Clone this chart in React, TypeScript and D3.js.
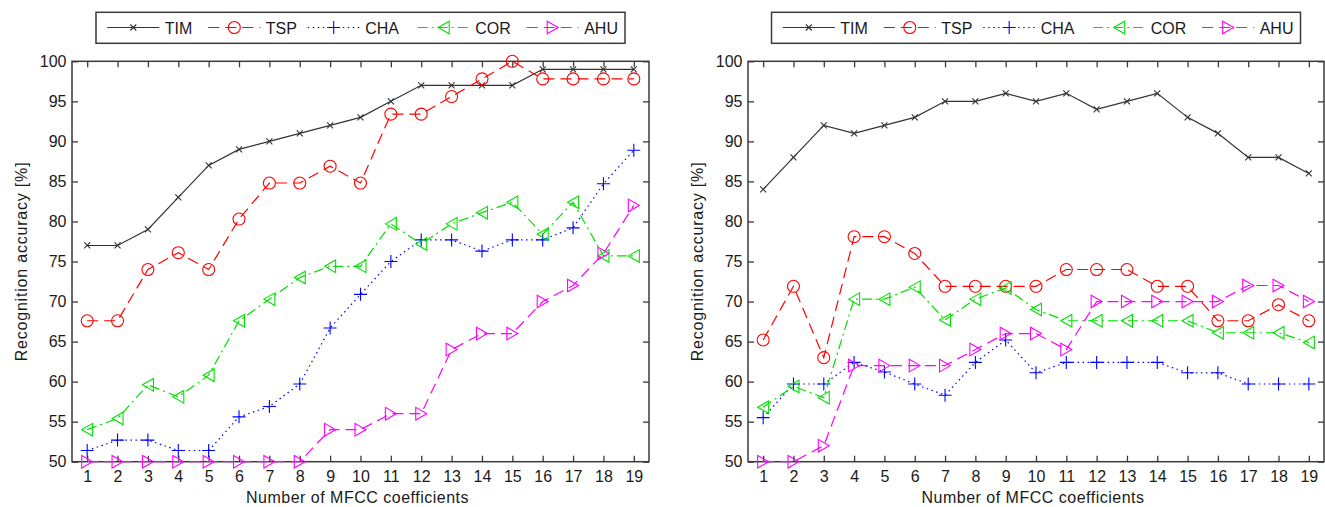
import React, { useRef, useEffect } from "react";
import * as d3 from "d3";

// x categories and axis ticks
const coefficients = [1, 2, 3, 4, 5, 6, 7, 8, 9, 10, 11, 12, 13, 14, 15, 16, 17, 18, 19];
const accuracyTicks = [50, 55, 60, 65, 70, 75, 80, 85, 90, 95, 100];
const seriesNames = ["TIM", "TSP", "CHA", "COR", "AHU"];

// left panel
const leftTIM = [77, 77, 79, 83, 87, 89, 90, 91, 92, 93, 95, 97, 97, 97, 97, 99, 99, 99, 99];
const leftTSP = [67.6, 67.6, 74, 76.1, 74, 80.3, 84.8, 84.8, 86.9, 84.8, 93.4, 93.4, 95.6, 97.8, 100, 97.8, 97.8, 97.8, 97.8];
const leftCHA = [51.4, 52.7, 52.7, 51.4, 51.4, 55.6, 56.9, 59.7, 66.7, 70.9, 75, 77.7, 77.7, 76.3, 77.7, 77.7, 79.2, 84.7, 88.9];
const leftCOR = [54, 55.4, 59.6, 58.1, 60.8, 67.6, 70.3, 73, 74.4, 74.4, 79.7, 77.2, 79.7, 81.1, 82.4, 78.4, 82.4, 75.7, 75.7];
const leftAHU = [50, 50, 50, 50, 50, 50, 50, 50, 54, 54, 56, 56, 64, 66, 66, 70, 72, 76, 82];

// right panel
const rightTIM = [84, 88, 92, 91, 92, 93, 95, 95, 96, 95, 96, 94, 95, 96, 93, 91, 88, 88, 86];
const rightTSP = [65.2, 71.9, 63, 78.1, 78.1, 76, 71.9, 71.9, 71.9, 71.9, 74, 74, 74, 71.9, 71.9, 67.6, 67.6, 69.6, 67.6];
const rightCHA = [55.5, 59.7, 59.7, 62.4, 61.2, 59.7, 58.3, 62.4, 65.2, 61.1, 62.4, 62.4, 62.4, 62.4, 61.1, 61.1, 59.7, 59.7, 59.7];
const rightCOR = [56.8, 59.4, 58, 70.3, 70.3, 71.8, 67.7, 70.3, 71.7, 69, 67.6, 67.6, 67.6, 67.6, 67.6, 66.1, 66.1, 66.1, 64.9];
const rightAHU = [50, 50, 52, 62, 62, 62, 62, 64, 66, 66, 64, 70, 70, 70, 70, 70, 72, 72, 70];

const FONT = "'Liberation Sans', Arial, Helvetica, sans-serif";
const AXIS = "#3a3a3a";
const TEXT = "#1a1a1a";

const styles: Record<string, { color: string; dash: string | null; marker: string }> = {
  TIM: { color: "#333333", dash: null, marker: "x" },
  TSP: { color: "#ff0000", dash: "11,6", marker: "o" },
  CHA: { color: "#0000ff", dash: "1.5,3.5", marker: "+" },
  COR: { color: "#00e000", dash: "10,4,2,4", marker: "<" },
  AHU: { color: "#ff00ff", dash: "11,6", marker: ">" },
};

const legendOffsets = [11.3, 112.3, 211.7, 321.7, 430.7];

const panels = [
  { left: 72, right: 649, series: [leftTIM, leftTSP, leftCHA, leftCOR, leftAHU] },
  { left: 748, right: 1324, series: [rightTIM, rightTSP, rightCHA, rightCOR, rightAHU] },
];

const markerPath = (type: string) => {
  switch (type) {
    case "x":
      return "M-3,-3L3,3M-3,3L3,-3";
    case "+":
      return "M-6.5,0L6.5,0M0,-6.5L0,6.5";
    case "<":
      return "M-5.5,0L5.5,-6.3L5.5,6.3Z";
    case ">":
      return "M5.5,0L-5.5,-6.3L-5.5,6.3Z";
    default:
      return "M6,0A6,6 0 1 1 -6,0A6,6 0 1 1 6,0Z";
  }
};

const drawPanel = (svg: any, p: any) => {
  const x = d3.scaleLinear().domain([0.5, 19.5]).range([p.left, p.right]);
  const y = d3.scaleLinear().domain([50, 100]).range([461.7, 61.3]);
  const g = svg.append("g");

  // axes box
  g.append("rect")
    .attr("x", p.left)
    .attr("y", y(100))
    .attr("width", p.right - p.left)
    .attr("height", y(50) - y(100))
    .attr("fill", "white")
    .attr("stroke", AXIS)
    .attr("stroke-width", 1.5);

  const styleAxis = (a: any) => {
    a.select(".domain").remove();
    a.attr("font-size", 16).attr("font-family", FONT);
    a.selectAll("line").attr("stroke", AXIS).attr("stroke-width", 1.3);
    a.selectAll("text").attr("fill", TEXT);
  };

  const bottom = g.append("g")
    .attr("transform", `translate(0,${y(50)})`)
    .call(d3.axisBottom(x).tickValues(coefficients).tickSize(-6).tickSizeOuter(0).tickPadding(8.5).tickFormat(d3.format("d")));
  styleAxis(bottom);
  const top = g.append("g")
    .attr("transform", `translate(0,${y(100)})`)
    .call(d3.axisTop(x).tickValues(coefficients).tickSize(-6).tickSizeOuter(0).tickFormat(() => ""));
  styleAxis(top);
  const leftAx = g.append("g")
    .attr("transform", `translate(${p.left},0)`)
    .call(d3.axisLeft(y).tickValues(accuracyTicks).tickSize(-6).tickSizeOuter(0).tickPadding(5.5).tickFormat(d3.format("d")));
  styleAxis(leftAx);
  const rightAx = g.append("g")
    .attr("transform", `translate(${p.right},0)`)
    .call(d3.axisRight(y).tickValues(accuracyTicks).tickSize(-6).tickSizeOuter(0).tickFormat(() => ""));
  styleAxis(rightAx);

  // axis labels
  g.append("text")
    .attr("x", (p.left + p.right) / 2 - 3)
    .attr("y", 503)
    .attr("text-anchor", "middle")
    .attr("font-family", FONT)
    .attr("font-size", 16)
    .attr("letter-spacing", 0.5)
    .attr("fill", TEXT)
    .text("Number of MFCC coefficients");
  g.append("text")
    .attr("transform", `translate(${p.left - 45},${(y(50) + y(100)) / 2}) rotate(-90)`)
    .attr("text-anchor", "middle")
    .attr("font-family", FONT)
    .attr("font-size", 16)
    .attr("letter-spacing", 0.8)
    .attr("fill", TEXT)
    .text("Recognition accuracy [%]");

  // series
  p.series.forEach((values: number[], k: number) => {
    const st = styles[seriesNames[k]];
    const line = d3.line<number>()
      .x((_, i) => x(coefficients[i]))
      .y((d) => y(d));
    g.append("path")
      .datum(values)
      .attr("fill", "none")
      .attr("stroke", st.color)
      .attr("stroke-width", 1.2)
      .attr("stroke-dasharray", st.dash)
      .attr("d", line);
    g.append("g")
      .selectAll("path")
      .data(values)
      .enter()
      .append("path")
      .attr("transform", (d: number, i: number) => `translate(${x(coefficients[i])},${y(d)})`)
      .attr("d", markerPath(st.marker))
      .attr("fill", "none")
      .attr("stroke", st.color)
      .attr("stroke-width", 1.1);
  });

  // legend
  const lx = (p.left + p.right) / 2 - 264.5;
  const lg = g.append("g").attr("transform", `translate(${lx},0)`);
  lg.append("rect")
    .attr("x", 0)
    .attr("y", 12.3)
    .attr("width", 529)
    .attr("height", 31)
    .attr("fill", "white")
    .attr("stroke", AXIS)
    .attr("stroke-width", 1.5);
  seriesNames.forEach((name, k) => {
    const st = styles[name];
    const off = legendOffsets[k];
    lg.append("line")
      .attr("x1", off)
      .attr("x2", off + 52)
      .attr("y1", 27.5)
      .attr("y2", 27.5)
      .attr("stroke", st.color)
      .attr("stroke-width", 1.2)
      .attr("stroke-dasharray", st.dash);
    lg.append("path")
      .attr("transform", `translate(${off + 26},27.5)`)
      .attr("d", markerPath(st.marker))
      .attr("fill", "none")
      .attr("stroke", st.color)
      .attr("stroke-width", 1.1);
    lg.append("text")
      .attr("x", off + 57.5)
      .attr("y", 34)
      .attr("font-family", FONT)
      .attr("font-size", 16)
      .attr("fill", TEXT)
      .text(name);
  });
};

const App = () => {
  const ref = useRef<SVGSVGElement>(null);

  useEffect(() => {
    if (!ref.current) return;
    const svg = d3.select(ref.current);
    svg.selectAll("*").remove();
    panels.forEach((p) => drawPanel(svg, p));
  }, []);

  return (
    <svg
      ref={ref}
      width={1325}
      height={507}
      style={{ position: "absolute", left: 0, top: 0, background: "white" }}
    />
  );
};

export default App;
